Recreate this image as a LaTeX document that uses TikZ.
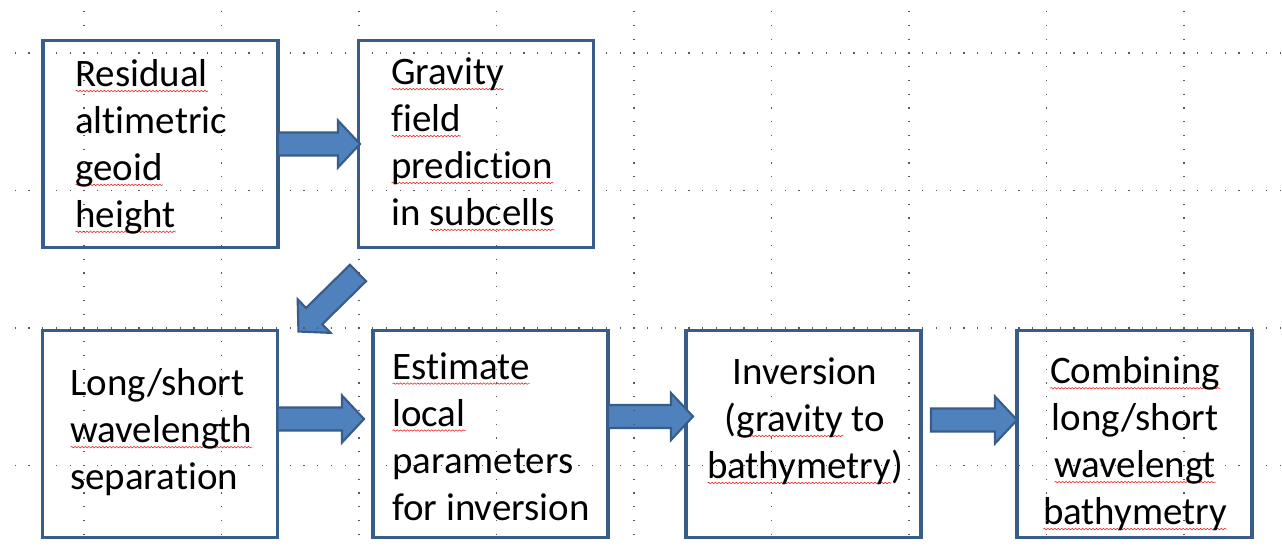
\documentclass[tikz,border=0pt]{standalone}
\usepackage{fontspec}
\setmainfont{Carlito}[Ligatures=NoCommon]
\usetikzlibrary{calc,decorations.pathmorphing}
\definecolor{boxblue}{RGB}{56,93,138}
\definecolor{arrowfill}{RGB}{79,129,189}
\definecolor{gridgray}{RGB}{90,90,90}
\definecolor{squig}{RGB}{235,40,40}
\newlength\splw
\newcommand\spl[1]{\settowidth\splw{#1}\rlap{\raisebox{-3.2pt}{\tikz[baseline=0pt]\draw[squig, line width=0.45pt, decorate, decoration={snake, amplitude=0.55pt, segment length=2.6pt}] (0pt,0pt) -- (\splw,0pt);}}#1}
\begin{document}
\begin{tikzpicture}[x=0.75pt,y=-0.75pt,
  box/.style={draw=boxblue, line width=2.4pt, minimum width=176.25pt, minimum height=155.25pt, inner sep=0pt, outer sep=0pt},
  txt/.style={inner sep=0pt, font=\fontsize{29.2}{35.2}\selectfont},
  arrowbody/.style={fill=arrowfill, draw=boxblue, line width=1.6pt, line join=miter},
  gridline/.style={draw=gridgray, line width=0.9pt, dash pattern=on 0.9pt off 9.4125pt},
  pics/barrow/.style={code={\draw[arrowbody] (0,-11.5) -- ({#1-22},-11.5) -- ({#1-22},-23.5) -- (#1,0) -- ({#1-22},23.5) -- ({#1-22},11.5) -- (0,11.5) -- cycle;}}]
\fill[white] (0,0) rectangle (1282,546);
\useasboundingbox (0,0) rectangle (1282,546);
% boxes
\node[box] (b1) at (160.5,144) {};
\node[box] (b2) at (476,144) {};
\node[box] (b3) at (160,434) {};
\node[box] (b4) at (490.5,434) {};
\node[box] (b5) at (803.5,434) {};
\node[box] (b6) at (1134.5,434) {};
% block arrows
\pic at (b1.east) {barrow=82};
\pic at ($(b3.east)+(0,-15)$) {barrow=86.5};
\pic at ($(b4.east)+(0,-17.5)$) {barrow=85};
\pic at ($(b5.east)+(10,-14)$) {barrow=86};
\pic[rotate=224.5] at ($(b2.south west)+(-0.5,25.5)$) {barrow=83.5};
% texts
\node[txt, anchor=west, align=left] (t1) at (75,147) {\spl{Residual}\\altimetric\\\spl{geoid}\\\spl{height}};
\node[txt, anchor=west, align=left] (t2) at (391,144.5) {\spl{Gravity}\\\spl{field}\\\spl{prediction}\\in \spl{subcells}};
\node[txt, anchor=west, align=left] (t3) at (70,432.5) {Long/short\\\spl{wavelength}\\separation};
\node[txt, anchor=west, align=left] (t4) at (392,436.5) {\spl{Estimate}\\\spl{local}\\parameters\\for inversion};
\node[txt, align=center] (t5) at (805,421.5) {Inversion\\(\spl{gravity} to\\\spl{bathymetry})};
\node[txt, align=center] (t6) at (1135,444) {\spl{Combining}\\long/short\\\spl{wavelengt}\\\spl{bathymetry}};
% dotted guide grid
\foreach \gy in {53,190.5,328,465.5} \draw[gridline] (14.65,\gy) -- (1282,\gy);
\foreach \k in {0,...,8} \draw[gridline] ({84+137.5*\k},11.15) -- ({84+137.5*\k},546);
\end{tikzpicture}
\end{document}
